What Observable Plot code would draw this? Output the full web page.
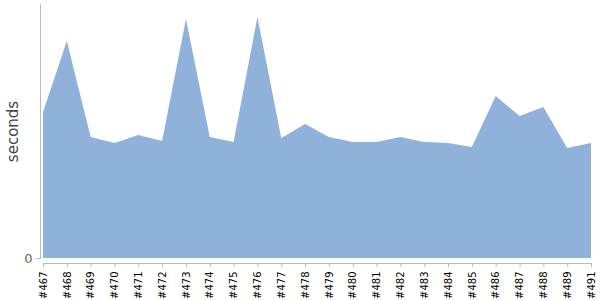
<!DOCTYPE html>
<html>
<head>
<meta charset="utf-8">
<script src="https://cdn.jsdelivr.net/npm/d3@7"></script>
<script src="https://cdn.jsdelivr.net/npm/@observablehq/plot@0.6"></script>
<style>
body { margin: 0; background: #fff; }
</style>
</head>
<body>
<div id="chart"></div>
<script>
const builds = ["#467","#468","#469","#470","#471","#472","#473","#474","#475","#476","#477","#478","#479","#480","#481","#482","#483","#484","#485","#486","#487","#488","#489","#491"];
const seconds = [146,217,121,115,123,117,239,121,116,241,120,134,121,116,116,121,116,115,111,162,142,151,110,115];
const yTicks = [0];
const yLabel = "seconds";

const data = builds.map((b, i) => ({i, build: b, value: seconds[i]}));

const chart = Plot.plot({
  width: 600,
  height: 300,
  marginLeft: 43,
  marginRight: 9,
  marginTop: 4,
  marginBottom: 42,
  style: {fontFamily: "DejaVu Sans", background: "#fff"},
  x: {type: "linear", domain: [0, builds.length - 1]},
  y: {domain: [0, 254]},
  marks: [
    Plot.areaY(data, {x: "i", y: "value", fill: "#90b2da", curve: "linear"}),
    Plot.frame({anchor: "left", dx: -3, stroke: "#bbb"}),
    Plot.frame({anchor: "bottom", dy: 5, stroke: "#bbb"}),
    Plot.axisY({ticks: yTicks, tickSize: 4, dx: -3, stroke: "#bbb", fill: "#666", fontSize: 13, label: null, tickPadding: 4}),
    Plot.axisX({ticks: d3.range(builds.length), tickFormat: i => builds[i], tickSize: 4, dy: 5, stroke: "#bbb", fill: "#000", fontSize: 10, tickRotate: -90, label: null, tickPadding: 4}),
    Plot.text([yLabel], {frameAnchor: "left", dx: -30, rotate: -90, textAnchor: "middle", fontSize: 15, fill: "#444", text: d => d})
  ]
});
document.getElementById("chart").appendChild(chart);
</script>
</body>
</html>
